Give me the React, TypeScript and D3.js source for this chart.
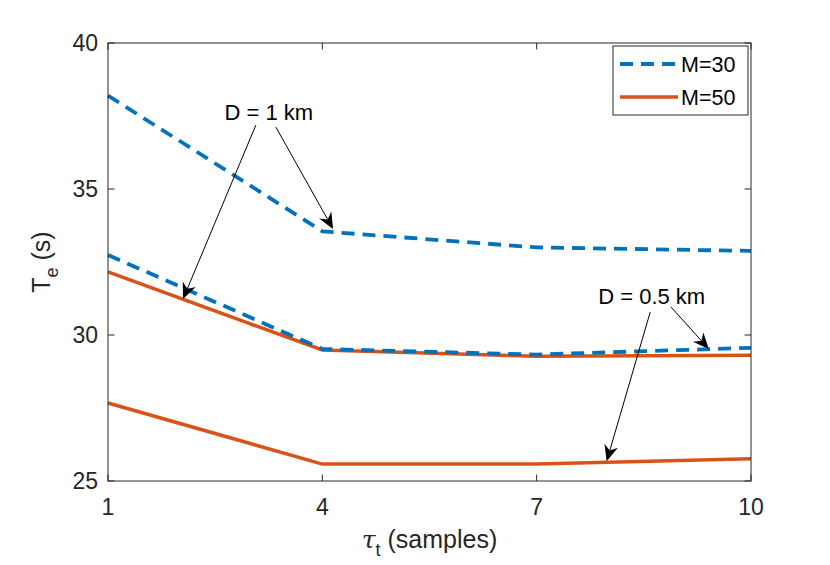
import * as d3 from "d3";

// τt values (samples) and Te (s) curves
const tauT = [1, 4, 7, 10];
const m30Far = [38.2, 33.55, 33.0, 32.88]; // M=30, D = 1 km
const m30Near = [32.74, 29.52, 29.33, 29.56]; // M=30, D = 0.5 km
const m50Far = [32.16, 29.49, 29.27, 29.31]; // M=50, D = 1 km
const m50Near = [27.67, 25.58, 25.58, 25.76]; // M=50, D = 0.5 km

const xTicks = [1, 4, 7, 10];
const yTicks = [25, 30, 35, 40];

// annotation arrows in data units: [tailX, tailY, tipX, tipY]
const farArrows = [
  [3.07, 37.19, 2.05, 31.23],
  [3.35, 37.12, 4.15, 33.63],
];
const nearArrows = [
  [8.59, 30.79, 7.98, 25.68],
  [8.88, 30.96, 9.41, 29.52],
];
const farLabel = { text: "D = 1 km", x: 3.25, y: 37.37 };
const nearLabel = { text: "D = 0.5 km", x: 8.61, y: 31.06 };

const BLUE = "#0072BD";
const ORANGE = "#D95319";
const INK = "#262626";
const FONT = "'Liberation Sans', Arial, Helvetica, sans-serif";

const W = 830;
const H = 565;
const margin = { top: 43, right: 79, bottom: 84, left: 108 };

function Arrow({ x1, y1, x2, y2 }: { x1: number; y1: number; x2: number; y2: number }) {
  const ang = Math.atan2(y2 - y1, x2 - x1);
  const len = 16;
  const half = 7;
  const back = 11;
  const ux = Math.cos(ang);
  const uy = Math.sin(ang);
  const bx = x2 - ux * len;
  const by = y2 - uy * len;
  const nx = x2 - ux * back;
  const ny = y2 - uy * back;
  const head = `M${x2},${y2}L${bx - uy * half},${by + ux * half}L${nx},${ny}L${bx + uy * half},${by - ux * half}Z`;
  return (
    <g>
      <line x1={x1} y1={y1} x2={nx} y2={ny} stroke="#000" strokeWidth={1} />
      <path d={head} fill="#000" />
    </g>
  );
}

export default function App() {
  const innerW = W - margin.left - margin.right;
  const innerH = H - margin.top - margin.bottom;

  const x = d3.scaleLinear().domain([1, 10]).range([0, innerW]);
  const y = d3.scaleLinear().domain([25, 40]).range([innerH, 0]);

  const line = d3
    .line<number>()
    .x((_, i) => x(tauT[i]))
    .y((d) => y(d));

  const tick = 6.5;

  return (
    <svg
      width={W}
      height={H}
      style={{ position: "absolute", left: 0, top: 0, background: "#fff" }}
      fontFamily={FONT}
    >
      <g transform={`translate(${margin.left},${margin.top})`}>
        <rect width={innerW} height={innerH} fill="#fff" />

        {/* curves */}
        <path d={line(m50Near) ?? ""} fill="none" stroke={ORANGE} strokeWidth={3.5} />
        <path d={line(m50Far) ?? ""} fill="none" stroke={ORANGE} strokeWidth={3.5} />
        <path d={line(m30Near) ?? ""} fill="none" stroke={BLUE} strokeWidth={3.8} strokeDasharray="13 8" />
        <path d={line(m30Far) ?? ""} fill="none" stroke={BLUE} strokeWidth={3.8} strokeDasharray="13 8" />

        {/* annotations */}
        {[...farArrows, ...nearArrows].map((a, i) => (
          <Arrow key={i} x1={x(a[0])} y1={y(a[1])} x2={x(a[2])} y2={y(a[3])} />
        ))}
        {[farLabel, nearLabel].map((l) => (
          <text key={l.text} x={x(l.x)} y={y(l.y)} textAnchor="middle" fontSize={22} fill="#000">
            {l.text}
          </text>
        ))}

        {/* box and ticks */}
        <rect width={innerW} height={innerH} fill="none" stroke={INK} strokeWidth={1} />
        {xTicks.map((t) => (
          <g key={t}>
            <line x1={x(t)} x2={x(t)} y1={innerH} y2={innerH - tick} stroke={INK} />
            <line x1={x(t)} x2={x(t)} y1={0} y2={tick} stroke={INK} />
            <text x={x(t)} y={innerH + 34} textAnchor="middle" fontSize={23} fill={INK}>
              {t}
            </text>
          </g>
        ))}
        {yTicks.map((t) => (
          <g key={t}>
            <line x1={0} x2={tick} y1={y(t)} y2={y(t)} stroke={INK} />
            <line x1={innerW} x2={innerW - tick} y1={y(t)} y2={y(t)} stroke={INK} />
            <text x={-10} y={y(t) + 8} textAnchor="end" fontSize={23} fill={INK}>
              {t}
            </text>
          </g>
        ))}

        {/* axis labels */}
        <text x={innerW / 2} y={innerH + 67} textAnchor="middle" fontSize={25} fill={INK}>
          <tspan fontFamily="'DejaVu Serif', serif" fontStyle="italic">τ</tspan>
          <tspan fontSize={18} dy={8}>t</tspan>
          <tspan dy={-8}> (samples)</tspan>
        </text>
        <text
          transform={`translate(-58,${innerH / 2}) rotate(-90)`}
          textAnchor="middle"
          fontSize={25}
          fill={INK}
        >
          <tspan>T</tspan>
          <tspan fontSize={18} dy={8}>e</tspan>
          <tspan dy={-8}> (s)</tspan>
        </text>

        {/* legend */}
        <g transform={`translate(${innerW - 138},3)`}>
          <rect width={135} height={69} fill="#fff" stroke={INK} strokeWidth={1} />
          <line x1={7} x2={65} y1={18} y2={18} stroke={BLUE} strokeWidth={3.8} strokeDasharray="13 8" />
          <line x1={7} x2={65} y1={51} y2={51} stroke={ORANGE} strokeWidth={3.5} />
          <text x={68} y={26} fontSize={21.5} fill="#000">M=30</text>
          <text x={68} y={59} fontSize={21.5} fill="#000">M=50</text>
        </g>
      </g>
    </svg>
  );
}
